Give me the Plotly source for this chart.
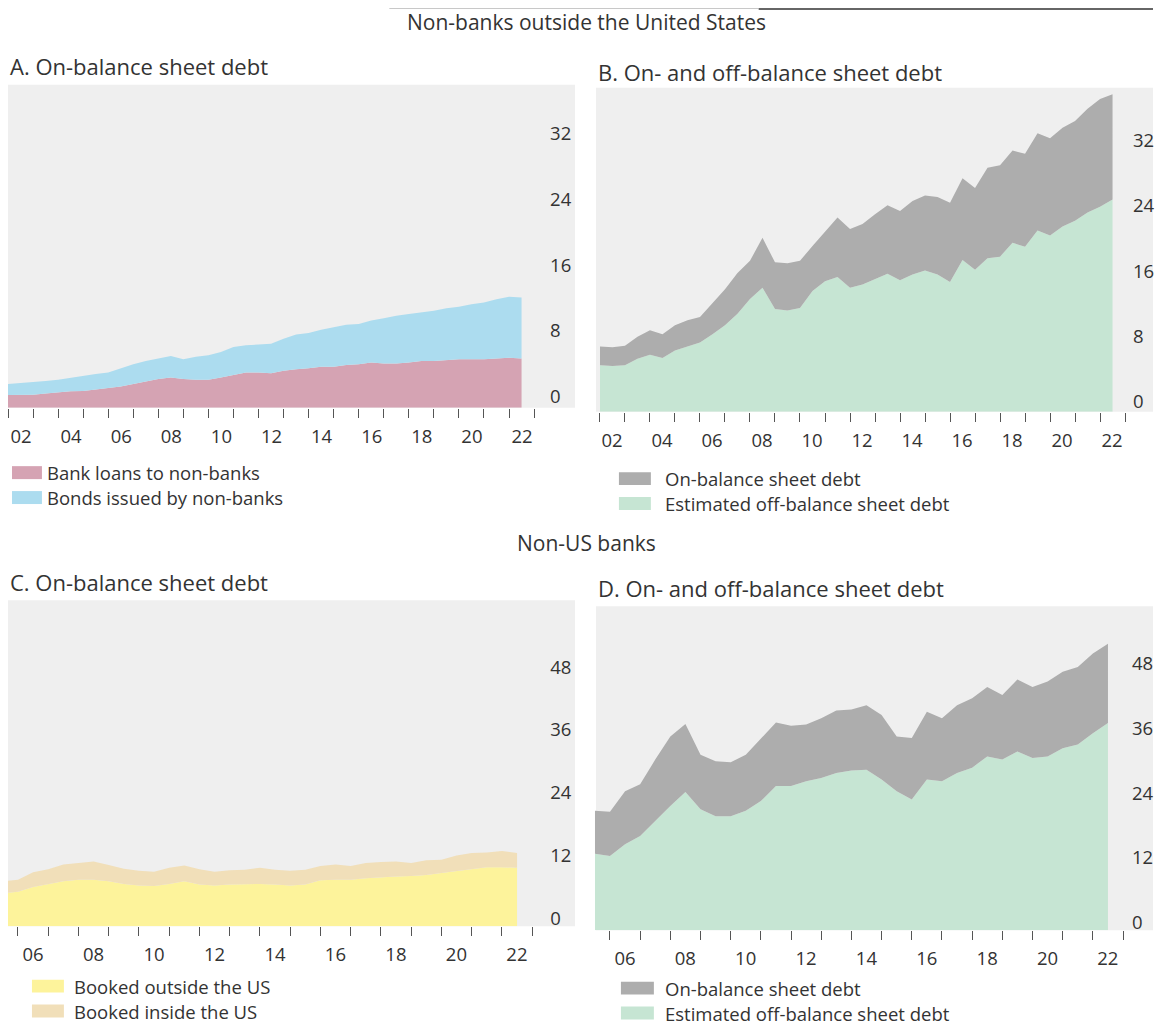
import plotly.graph_objects as go

# ---------------- data ----------------
years_ab = [2002.0, 2002.5, 2003.0, 2003.5, 2004.0, 2004.5, 2005.0, 2005.5, 2006.0, 2006.5,
            2007.0, 2007.5, 2008.0, 2008.5, 2009.0, 2009.5, 2010.0, 2010.5, 2011.0, 2011.5,
            2012.0, 2012.5, 2013.0, 2013.5, 2014.0, 2014.5, 2015.0, 2015.5, 2016.0, 2016.5,
            2017.0, 2017.5, 2018.0, 2018.5, 2019.0, 2019.5, 2020.0, 2020.5, 2021.0, 2021.5,
            2022.0, 2022.5]
years_cd = [2005.5, 2006.0, 2006.5, 2007.0, 2007.5, 2008.0, 2008.5, 2009.0, 2009.5, 2010.0,
            2010.5, 2011.0, 2011.5, 2012.0, 2012.5, 2013.0, 2013.5, 2014.0, 2014.5, 2015.0,
            2015.5, 2016.0, 2016.5, 2017.0, 2017.5, 2018.0, 2018.5, 2019.0, 2019.5, 2020.0,
            2020.5, 2021.0, 2021.5, 2022.0, 2022.5]

# Panel A: non-banks outside the US, on-balance sheet debt (USD trn)
a_bank_loans = [1.56, 1.56, 1.6, 1.75, 1.9, 2.0, 2.05, 2.2, 2.4, 2.6,
                2.9, 3.2, 3.5, 3.7, 3.5, 3.4, 3.4, 3.7, 4.0, 4.3,
                4.3, 4.2, 4.5, 4.7, 4.8, 5.0, 5.0, 5.2, 5.3, 5.5,
                5.4, 5.4, 5.5, 5.7, 5.7, 5.8, 5.9, 5.9, 5.9, 6.0,
                6.1, 6.0]
a_bonds = [1.34, 1.44, 1.5, 1.5, 1.5, 1.65, 1.85, 1.9, 1.9, 2.2,
           2.4, 2.5, 2.5, 2.6, 2.4, 2.8, 3.0, 3.1, 3.4, 3.3,
           3.4, 3.6, 3.9, 4.2, 4.3, 4.5, 4.8, 4.9, 4.9, 5.1,
           5.5, 5.8, 5.9, 5.9, 6.1, 6.3, 6.4, 6.7, 6.9, 7.2,
           7.4, 7.4]

# Panel B: non-banks outside the US, on- and off-balance sheet debt
b_off = [5.7, 5.6, 5.7, 6.5, 7.0, 6.6, 7.5, 8.0, 8.5, 9.5,
         10.6, 12.0, 13.8, 15.2, 12.6, 12.4, 12.7, 14.8, 16.0, 16.5,
         15.2, 15.6, 16.3, 16.9, 16.1, 16.8, 17.3, 16.8, 15.9, 18.6,
         17.4, 18.8, 19.0, 20.7, 20.2, 22.2, 21.6, 22.7, 23.4, 24.4,
         25.1, 26.0]
b_on = [2.3, 2.3, 2.4, 2.7, 3.0, 2.9, 3.1, 3.2, 3.1, 3.8,
        4.4, 5.0, 4.7, 6.1, 5.7, 5.8, 5.8, 5.5, 6.0, 7.3,
        7.2, 7.4, 7.9, 8.4, 8.5, 9.0, 9.2, 9.5, 9.7, 10.0,
        10.0, 11.1, 11.2, 11.3, 11.4, 11.9, 11.9, 12.1, 12.2, 12.7,
        13.2, 12.9]

# Panel C: non-US banks, on-balance sheet debt
c_outside = [6.3, 6.6, 7.5, 8.0, 8.6, 8.9, 8.9, 8.6, 8.1, 7.8,
             7.7, 8.1, 8.6, 8.0, 7.8, 8.0, 8.1, 8.1, 8.0, 7.8,
             8.0, 8.8, 8.9, 8.9, 9.2, 9.4, 9.5, 9.6, 9.8, 10.2,
             10.6, 11.0, 11.3, 11.3, 11.2]
c_inside = [2.3, 2.3, 2.8, 2.9, 3.2, 3.2, 3.5, 3.1, 2.9, 2.8,
            2.7, 3.1, 3.0, 2.9, 2.6, 2.7, 2.7, 3.1, 2.8, 2.8,
            2.8, 2.7, 2.9, 2.6, 2.9, 2.9, 2.9, 2.5, 2.8, 2.5,
            2.9, 3.0, 2.8, 3.1, 2.8]

# Panel D: non-US banks, on- and off-balance sheet debt
d_off = [14.2, 13.8, 16.0, 17.5, 20.3, 23.1, 25.7, 22.5, 21.2, 21.2,
         22.2, 24.0, 26.8, 26.8, 27.7, 28.3, 29.2, 29.7, 29.8, 28.0,
         25.8, 24.3, 28.0, 27.7, 29.2, 30.2, 32.3, 31.7, 33.2, 32.0,
         32.3, 33.8, 34.5, 36.6, 38.5]
d_on = [8.0, 8.2, 9.8, 9.6, 11.4, 12.9, 12.6, 10.1, 10.2, 10.0,
        10.4, 11.7, 11.8, 11.2, 10.5, 11.1, 11.6, 11.3, 12.0, 12.0,
        10.2, 11.4, 12.6, 11.7, 12.6, 12.9, 12.9, 12.0, 13.4, 13.2,
        13.9, 14.2, 14.4, 14.8, 14.7]

# year ticks (one per year) and their labels (every second year, centred in the year)
xticks_ab = [2002, 2003, 2004, 2005, 2006, 2007, 2008, 2009, 2010, 2011, 2012,
             2013, 2014, 2015, 2016, 2017, 2018, 2019, 2020, 2021, 2022, 2023]
xlabels_ab = ["02", "", "04", "", "06", "", "08", "", "10", "", "12",
              "", "14", "", "16", "", "18", "", "20", "", "22", ""]
xticks_cd = [2006, 2007, 2008, 2009, 2010, 2011, 2012, 2013, 2014, 2015, 2016,
             2017, 2018, 2019, 2020, 2021, 2022, 2023]
xlabels_cd = ["06", "", "08", "", "10", "", "12", "", "14", "", "16",
              "", "18", "", "20", "", "22", ""]
ytick_ab = [0, 8, 16, 24, 32]
ytick_cd = [0, 12, 24, 36, 48]

legend_a = ["Bank loans to non-banks", "Bonds issued by non-banks"]
legend_b = ["On-balance sheet debt", "Estimated off-balance sheet debt"]
legend_c = ["Booked outside the US", "Booked inside the US"]
legend_d = ["On-balance sheet debt", "Estimated off-balance sheet debt"]

# ---------------- style ----------------
# the page adds an 8 px body margin: figure is drawn 16 px smaller, coordinates
# below are given in window pixels and shifted by 8 px.
M = 8
W, H = 1163 - 2 * M, 1036 - 2 * M
FONT = "Open Sans"
TXT = "#333333"
PINK = "#d5a3b3"
BLUE = "#acdcef"
GREY = "#adadad"
GREEN = "#c6e5d3"
YELLOW = "#fdf39b"
BEIGE = "#f1dfb9"
PANEL_BG = "#efefef"


def px(x):
    return min(max((x - M) / W, 0.0), 1.0)


def py(y):
    return min(max(1 - (y - M) / H, 0.0), 1.0)


def xd(a, b):
    return [px(a), px(b)]


def yd(top, bottom):
    return [py(bottom), py(top)]


fig = go.Figure()


def area(x, y, color, xa, ya, group, name):
    fig.add_trace(go.Scatter(x=x, y=y, mode="lines", stackgroup=group, name=name,
                             line=dict(width=0, color=color), fillcolor=color,
                             xaxis=xa, yaxis=ya, showlegend=False, hoverinfo="skip"))


area(years_ab, a_bank_loans, PINK, "x", "y", "a", legend_a[0])
area(years_ab, a_bonds, BLUE, "x", "y", "a", legend_a[1])
area(years_ab, b_off, GREEN, "x2", "y2", "b", legend_b[1])
area(years_ab, b_on, GREY, "x2", "y2", "b", legend_b[0])
area(years_cd, c_outside, YELLOW, "x3", "y3", "c", legend_c[0])
area(years_cd, c_inside, BEIGE, "x3", "y3", "c", legend_c[1])
area(years_cd, d_off, GREEN, "x4", "y4", "d", legend_d[1])
area(years_cd, d_on, GREY, "x4", "y4", "d", legend_d[0])

tickfont = dict(family=FONT, size=18.5, color=TXT)


def xaxis(domain, rng, tickvals, ticktext, halfyear, anchor):
    return dict(domain=domain, range=rng, anchor=anchor, tickmode="array",
                tickvals=tickvals, ticktext=ticktext, ticks="outside", ticklen=9,
                tickwidth=1, tickcolor="#555555", ticklabelshift=halfyear,
                ticklabelstandoff=3, tickfont=tickfont, showgrid=False,
                zeroline=False, showline=False, fixedrange=True)


def yaxis(domain, rng, ticks, anchor, shift, standoff):
    return dict(domain=domain, range=rng, tickmode="array", tickvals=ticks,
                side="right", anchor=anchor, ticks="", tickfont=tickfont,
                showgrid=False, zeroline=False, showline=False,
                ticklabelshift=-shift, ticklabelstandoff=standoff, fixedrange=True)


# panel geometry in window pixels
A = dict(x0=7.7, x1=535, top=85, base=409, ppu=8.25)
B = dict(x0=601, x1=1127, top=88, base=413, ppu=8.19)
C = dict(x0=8, x1=533.1, top=602, base=929, ppu=5.25)
D = dict(x0=595.9, x1=1125, top=608, base=933, ppu=5.4)

fig.update_layout(
    width=W, height=H, margin=dict(l=0, r=0, t=0, b=0),
    paper_bgcolor="white", plot_bgcolor="rgba(0,0,0,0)",
    font=dict(family=FONT, color=TXT),
    xaxis=xaxis(xd(A["x0"], A["x1"]), [2002, 2023], xticks_ab, xlabels_ab, 13, "y"),
    yaxis=yaxis(yd(A["top"], A["base"]), [0, (A["base"] - A["top"]) / A["ppu"]], ytick_ab, "x", 11, 15),
    xaxis2=xaxis(xd(B["x0"], B["x1"]), [2002, 2023], xticks_ab, xlabels_ab, 12, "y2"),
    yaxis2=yaxis(yd(B["top"], B["base"]), [0, (B["base"] - B["top"]) / B["ppu"]], ytick_ab, "x2", 10, 7),
    xaxis3=xaxis(xd(C["x0"], C["x1"]), [2005.67, 2023], xticks_cd, xlabels_cd, 15, "y3"),
    yaxis3=yaxis(yd(C["top"], C["base"]), [0, (C["base"] - C["top"]) / C["ppu"]], ytick_cd, "x3", 8, 17),
    xaxis4=xaxis(xd(D["x0"], D["x1"]), [2005.5, 2023], xticks_cd, xlabels_cd, 15, "y4"),
    yaxis4=yaxis(yd(D["top"], D["base"]), [0, (D["base"] - D["top"]) / D["ppu"]], ytick_cd, "x4", 8, 8),
    showlegend=False,
)

shapes = []
# panel backgrounds
for (x0, x1, y0, y1) in [(4, 576, 85, 409), (597, 1163, 88, 413),
                         (4, 576, 602, 929), (597, 1163, 608, 933)]:
    shapes.append(dict(type="rect", xref="paper", yref="paper", layer="below",
                       x0=px(x0), x1=px(x1), y0=py(y1), y1=py(y0),
                       fillcolor=PANEL_BG, line=dict(width=0)))
# scanned rule at the top of the page
shapes.append(dict(type="line", xref="paper", yref="paper", x0=px(390), x1=px(760),
                   y0=py(8.5), y1=py(8.5), line=dict(color="#c8c8c8", width=1)))
shapes.append(dict(type="line", xref="paper", yref="paper", x0=px(760), x1=1.0,
                   y0=py(9), y1=py(9), line=dict(color="#666666", width=2)))

annotations = []


def text(x, y, s, size, anchor="left"):
    annotations.append(dict(x=px(x), y=py(y), xref="paper", yref="paper", text=s,
                            showarrow=False, xanchor=anchor, yanchor="middle",
                            font=dict(family=FONT, size=size, color=TXT)))


text(588, 22, "Non-banks outside the United States", 21, "center")
text(8, 66, "A. On-balance sheet debt", 22)
text(597, 72, "B. On- and off-balance sheet debt", 22)
text(588, 545, "Non-US banks", 21, "center")
text(8, 584, "C. On-balance sheet debt", 22)
text(597, 590, "D. On- and off-balance sheet debt", 22)


def legend(items, colors, sx0, sx1, tx, ys):
    for s, c, y in zip(items, colors, ys):
        shapes.append(dict(type="rect", xref="paper", yref="paper",
                           x0=px(sx0), x1=px(sx1), y0=py(y + 6.5), y1=py(y - 6.5),
                           fillcolor=c, line=dict(width=0)))
        text(tx, y, s, 18.5)


legend(legend_a, [PINK, BLUE], 12, 42, 45, [474, 499])
legend(legend_b, [GREY, GREEN], 620, 652, 664, [480, 505])
legend(legend_c, [YELLOW, BEIGE], 32, 64, 72, [989, 1014])
legend(legend_d, [GREY, GREEN], 622, 655, 664, [991, 1016])

fig.update_layout(shapes=shapes, annotations=annotations)
fig.write_html("out.html")
